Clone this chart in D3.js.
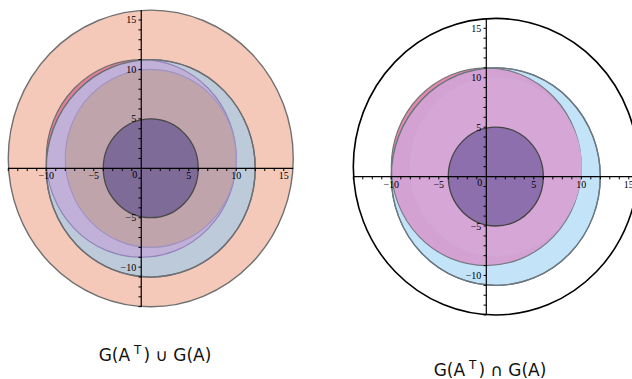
<!DOCTYPE html>
<html><head><meta charset="utf-8">
<script src="https://cdn.jsdelivr.net/npm/d3@7"></script>
<style>body{margin:0;background:#fff}svg{display:block}</style>
</head><body>
<svg id="c" width="632" height="379"></svg>
<script>
// Gershgorin discs: diagonal entries (centres) and radii
const centreRe = [1, 0, 1];
const centreIm = [0, 1, 1];
const rowRadii = [5, 10, 15];   // G(A)
const colRadii = [11, 10, 9];   // G(A^T)
const axisRange = [-14, 16];
const majorTicks = [-10, -5, 5, 10, 15];
const minorTicks = d3.range(-14, 16);
const captions = ["G(A", "T", ") \u222A G(A)", ") \u2229 G(A)"];

const svg = d3.select("#c");
const panels = [
  {x: d3.scaleLinear().domain(axisRange).range([8.25, 293.25]),
   y: d3.scaleLinear().domain(axisRange).range([306.7, 10.1]), kind: "union"},
  {x: d3.scaleLinear().domain(axisRange).range([353.3, 638.3]),
   y: d3.scaleLinear().domain(axisRange).range([315, 18.4]), kind: "inter"}
];

const styles = {
  union: {outer:{fill:"#f5c9b9",stroke:"#707070",w:1.4},
          red:{fill:"#df7f95",stroke:"#707070"},
          blue:{fill:"#bdcad9",stroke:"#6c6f74"},
          both:{fill:"#c1b1d9",stroke:"#9284ba"},
          mauve:{fill:"#bfa4ab",stroke:"#9f92c2"},
          dark:{fill:"#7f6b98",stroke:"#484848"}},
  inter: {outer:{fill:"none",stroke:"#000",w:1.6},
          red:{fill:"#e489ab",stroke:"#777"},
          blue:{fill:"#c3e4f8",stroke:"#6b7880"},
          both:{fill:"#d4a1d3",stroke:"#7a7a86"},
          mauve:{fill:"#d5a6d6",stroke:"#d0aad8"},
          dark:{fill:"#8c6fac",stroke:"#444"}}
};

panels.forEach((p, pi) => {
  const g = svg.append("g");
  const st = styles[p.kind];
  const sx = Math.abs(p.x(1) - p.x(0)), sy = Math.abs(p.y(1) - p.y(0));
  const ell = (sel, i, r) => sel.append("ellipse")
      .attr("cx", p.x(centreRe[i])).attr("cy", p.y(centreIm[i]))
      .attr("rx", r * sx).attr("ry", r * sy);
  ell(g, 2, rowRadii[2]).attr("fill", st.outer.fill).attr("stroke", st.outer.stroke).attr("stroke-width", st.outer.w);
  ell(g, 1, rowRadii[1]).attr("fill", st.red.fill).attr("stroke", st.red.stroke).attr("stroke-width", 1.2);
  ell(g, 0, colRadii[0]).attr("fill", st.blue.fill).attr("stroke", st.blue.stroke).attr("stroke-width", 1.3);
  const cid = "clip" + pi;
  ell(svg.append("clipPath").attr("id", cid), 0, colRadii[0]);
  ell(g.append("g").attr("clip-path", `url(#${cid})`), 1, colRadii[1])
      .attr("fill", st.both.fill).attr("stroke", st.both.stroke).attr("stroke-width", 1.2);
  ell(g, 2, colRadii[2]).attr("fill", st.mauve.fill).attr("stroke", st.mauve.stroke).attr("stroke-width", 1.1);
  ell(g, 0, colRadii[0]).attr("fill", "none").attr("stroke", st.blue.stroke).attr("stroke-width", 1.3);
  ell(g, 0, rowRadii[0]).attr("fill", st.dark.fill).attr("stroke", st.dark.stroke).attr("stroke-width", 1.3);

  // axes
  const ax = svg.append("g").attr("stroke", "#000");
  const x0 = p.x(0), y0 = p.y(0);
  ax.append("line").attr("x1", p.x(axisRange[0])).attr("x2", p.x(axisRange[1]))
    .attr("y1", y0).attr("y2", y0).attr("stroke-width", 1.2);
  ax.append("line").attr("y1", p.y(axisRange[0])).attr("y2", p.y(axisRange[1]))
    .attr("x1", x0).attr("x2", x0).attr("stroke-width", 1.2);
  minorTicks.filter(d => d !== 0).forEach(d => {
    ax.append("line").attr("x1", p.x(d)).attr("x2", p.x(d)).attr("y1", y0).attr("y2", y0 + 2.8).attr("stroke-width", 1);
    ax.append("line").attr("y1", p.y(d)).attr("y2", p.y(d)).attr("x1", x0 - 2.8).attr("x2", x0).attr("stroke-width", 1);
  });
  const lab = svg.append("g").attr("font-family", "'Liberation Serif', 'DejaVu Serif', serif")
    .attr("font-size", 10).attr("fill", "#000");
  const fmt = d => (d < 0 ? "\u2212" : "") + Math.abs(d);
  majorTicks.forEach(d => {
    lab.append("text").attr("x", p.x(d)).attr("y", y0 + 11).attr("text-anchor", "middle").text(fmt(d));
    lab.append("text").attr("x", x0 - 5).attr("y", p.y(d) + 3.5).attr("text-anchor", "end").text(fmt(d));
  });
  lab.append("text").attr("x", x0 - 6.5).attr("y", y0 + 9.5).attr("text-anchor", "middle").text("0");
});

// captions
const capPos = [[155, 361], [490, 376]];
capPos.forEach((c, i) => {
  const t = svg.append("text").attr("x", c[0]).attr("y", c[1]).attr("text-anchor", "middle")
    .attr("font-family", "'DejaVu Sans', sans-serif").attr("font-size", 17).attr("fill", "#111");
  t.append("tspan").text(captions[0]);
  t.append("tspan").attr("dy", -7.5).attr("dx", 4).attr("font-size", 12).text(captions[1]);
  t.append("tspan").attr("dy", 7.5).attr("dx", 2).text(captions[2 + i]);
});
</script>
</body></html>
